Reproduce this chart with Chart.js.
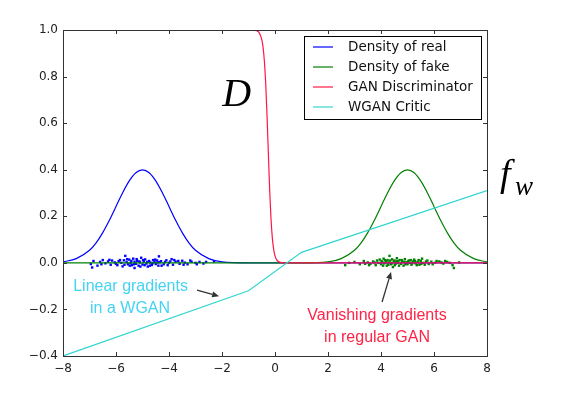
<!DOCTYPE html>
<html>
<head>
<meta charset="utf-8">
<script src="https://cdn.jsdelivr.net/npm/chart.js@4.4.1/dist/chart.umd.min.js"></script>
<style>
  html, body { margin: 0; padding: 0; background: #fff; }
  canvas { display: block; }
</style>
</head>
<body>
<canvas id="wganChart" width="564" height="398"></canvas>
<script>
// data
const realX = [-8, -7.5, -7, -6.75, -6.5, -6.25, -6, -5.75, -5.5, -5.25, -5, -4.75, -4.5, -4.25, -4, -3.75, -3.5, -3.25, -3, -2.5, -2, -1, 8];
const realY = [0.004, 0.018, 0.054, 0.086, 0.130, 0.183, 0.242, 0.301, 0.352, 0.387, 0.399, 0.387, 0.352, 0.301, 0.242, 0.183, 0.130, 0.086, 0.054, 0.018, 0.004, 0, 0];

const fakeX = [-8, 1, 2, 2.5, 3, 3.25, 3.5, 3.75, 4, 4.25, 4.5, 4.75, 5, 5.25, 5.5, 5.75, 6, 6.25, 6.5, 6.75, 7, 7.5, 8];
const fakeY = [0, 0, 0.004, 0.018, 0.054, 0.086, 0.130, 0.183, 0.242, 0.301, 0.352, 0.387, 0.399, 0.387, 0.352, 0.301, 0.242, 0.183, 0.130, 0.086, 0.054, 0.018, 0.004];

const discX = [-8, -0.8, -0.7, -0.6, -0.5, -0.45, -0.4, -0.35, -0.3, -0.25, -0.2, -0.15, -0.1, -0.05, 0, 0.05, 0.1, 0.2, 0.3, 8];
const discY = [1, 0.999, 0.997, 0.989, 0.96, 0.926, 0.865, 0.769, 0.63, 0.467, 0.31, 0.188, 0.106, 0.058, 0.03, 0.016, 0.008, 0.002, 0, 0];

const criticX = [-8, -1, 1, 8];
const criticY = [-0.4, -0.12, 0.045, 0.31];

const realSamples = [
  [-6.95, -0.005], [-6.9, -0.02], [-6.85, 0.008], [-6.7, -0.012], [-6.6, 0.004], [-6.5, 0.012],
  [-6.4, -0.002], [-6.3, 0.006], [-6.2, -0.008], [-6.15, 0.01], [-6.05, 0.002], [-5.95, -0.01],
  [-5.9, 0.007], [-5.8, 0.0], [-5.75, -0.015], [-5.7, 0.011], [-5.65, 0.03], [-5.6, 0.004],
  [-5.55, -0.006], [-5.5, 0.014], [-5.45, 0.0], [-5.4, -0.01], [-5.35, 0.018], [-5.3, 0.005],
  [-5.3, -0.022], [-5.25, -0.004], [-5.2, 0.009], [-5.15, -0.012], [-5.1, 0.002], [-5.05, 0.022],
  [-5.0, -0.007], [-4.95, 0.006], [-4.9, 0.015], [-4.85, -0.003], [-4.8, -0.016], [-4.75, 0.008],
  [-4.7, 0.001], [-4.65, -0.009], [-4.6, 0.012], [-4.55, 0.004], [-4.5, -0.005], [-4.45, 0.01],
  [-4.4, -0.012], [-4.38, 0.028], [-4.35, 0.003], [-4.3, 0.007], [-4.2, -0.006], [-4.1, 0.011],
  [-4.0, 0.0], [-3.9, 0.016], [-3.85, -0.008], [-3.75, 0.005], [-3.6, -0.004], [-3.5, 0.009],
  [-3.4, 0.001], [-3.3, -0.006], [-3.15, 0.005], [-3.0, 0.0], [-2.85, 0.004], [-2.7, -0.003],
  [-2.3, 0.006], [-6.55, -0.006], [-6.25, 0.013], [-6.0, -0.004], [-5.85, 0.012], [-5.68, -0.008],
  [-5.58, 0.016], [-5.48, -0.012], [-5.42, 0.008], [-5.33, -0.006], [-5.22, 0.016], [-5.12, 0.006],
  [-5.08, -0.016], [-4.98, 0.012], [-4.92, -0.01], [-4.82, 0.004], [-4.72, -0.012], [-4.62, -0.002],
  [-4.52, 0.014], [-4.42, 0.002], [-4.28, -0.012], [-4.15, 0.004], [-4.05, -0.01], [-3.95, 0.006],
  [-3.8, 0.012], [-3.65, 0.008], [-3.45, -0.008], [-3.2, 0.01], [-2.95, -0.006], [-2.6, 0.004]
];

const fakeSamples = [
  [2.65, -0.01], [2.8, 0.0], [3.0, 0.004], [3.2, -0.006], [3.35, 0.008], [3.5, 0.002],
  [3.55, -0.01], [3.6, -0.004], [3.7, 0.006], [3.8, -0.01], [3.85, 0.01], [3.9, 0.0],
  [3.95, 0.014], [4.0, -0.006], [4.05, 0.004], [4.1, 0.018], [4.12, -0.002], [4.18, 0.008],
  [4.22, -0.012], [4.25, 0.012], [4.3, 0.002], [4.32, 0.03], [4.38, -0.006], [4.42, 0.015],
  [4.45, -0.018], [4.48, 0.004], [4.52, -0.01], [4.58, 0.008], [4.6, 0.02], [4.62, 0.0],
  [4.7, 0.012], [4.75, -0.004], [4.8, 0.006], [4.85, -0.012], [4.9, 0.016], [4.95, 0.002],
  [5.0, -0.006], [5.05, 0.01], [5.1, 0.0], [5.15, -0.008], [5.2, 0.006], [5.25, 0.014],
  [5.3, -0.002], [5.38, 0.004], [5.45, -0.008], [5.5, 0.009], [5.55, 0.018], [5.6, 0.0],
  [5.7, 0.006], [5.8, -0.005], [5.9, 0.005], [6.05, 0.001], [6.2, 0.006], [6.35, -0.003],
  [6.5, 0.004], [6.7, -0.01], [6.75, -0.022], [6.95, 0.002], [3.4, -0.004], [3.75, 0.002],
  [4.02, 0.008], [4.08, -0.012], [4.15, 0.012], [4.2, 0.002], [4.28, -0.008], [4.35, 0.01],
  [4.4, -0.002], [4.5, 0.01], [4.55, -0.004], [4.65, 0.006], [4.68, -0.012], [4.78, 0.012],
  [4.88, 0.004], [4.92, -0.006], [5.02, 0.006], [5.12, 0.012], [5.18, -0.002], [5.28, 0.008],
  [5.35, -0.01], [5.42, 0.012], [5.52, -0.004], [5.65, -0.008], [5.75, 0.01], [5.95, -0.006],
  [6.1, 0.008], [6.28, 0.002], [6.42, 0.008], [6.6, 0.0]
];

const xTicks = [-8, -6, -4, -2, 0, 2, 4, 6, 8];
const yTicks = [-0.4, -0.2, 0.0, 0.2, 0.4, 0.6, 0.8, 1.0];

const COLORS = {
  real: '#0000ff',
  fake: '#008000',
  disc: '#ff1744',
  critic: '#33d6cf',
  linearText: '#45d3f2',
  vanishText: '#ff2346',
  arrow: '#333333'
};

const pairs = (xs, ys) => xs.map((x, i) => ({ x: x, y: ys[i] }));
const points = list => list.map(p => ({ x: p[0], y: p[1] }));

// legend, frame, inward ticks and the annotations
const decorPlugin = {
  id: 'decor',
  afterDatasetsDraw(chart) {
    const ctx = chart.ctx;
    const area = chart.chartArea;
    const xs = chart.scales.x;
    const ys = chart.scales.y;
    const px = v => xs.getPixelForValue(v);
    const py = v => ys.getPixelForValue(v);

    ctx.save();
    // frame
    ctx.strokeStyle = '#333';
    ctx.lineWidth = 1;
    ctx.strokeRect(Math.round(area.left) + 0.5, Math.round(area.top) + 0.5,
      Math.round(area.right - area.left), Math.round(area.bottom - area.top));

    // inward ticks on all four sides
    ctx.beginPath();
    xTicks.forEach(t => {
      const x = Math.round(px(t)) + 0.5;
      ctx.moveTo(x, area.bottom); ctx.lineTo(x, area.bottom - 4);
      ctx.moveTo(x, area.top); ctx.lineTo(x, area.top + 4);
    });
    yTicks.forEach(t => {
      const y = Math.round(py(t)) + 0.5;
      ctx.moveTo(area.left, y); ctx.lineTo(area.left + 4, y);
      ctx.moveTo(area.right, y); ctx.lineTo(area.right - 4, y);
    });
    ctx.stroke();

    // legend box
    const items = [
      ['Density of real', COLORS.real],
      ['Density of fake', COLORS.fake],
      ['GAN Discriminator', COLORS.disc],
      ['WGAN Critic', COLORS.critic]
    ];
    const bw = 177, bh = 83;
    const bx = area.right - 6 - bw, by = area.top + 6;
    ctx.fillStyle = '#fff';
    ctx.fillRect(bx, by, bw, bh);
    ctx.strokeStyle = '#000';
    ctx.strokeRect(Math.round(bx) + 0.5, Math.round(by) + 0.5, bw, bh);
    ctx.font = '13.5px "DejaVu Sans"';
    ctx.textBaseline = 'middle';
    ctx.textAlign = 'left';
    items.forEach((it, i) => {
      const y = by + 11 + i * 20;
      ctx.strokeStyle = it[1];
      ctx.lineWidth = 1.2;
      ctx.beginPath();
      ctx.moveTo(bx + 9, y); ctx.lineTo(bx + 29, y);
      ctx.stroke();
      ctx.fillStyle = '#111';
      ctx.fillText(it[0], bx + 44, y);
    });

    // big symbols
    ctx.fillStyle = '#000';
    ctx.textBaseline = 'alphabetic';
    ctx.textAlign = 'center';
    ctx.font = 'italic 40px "Liberation Serif"';
    ctx.fillText('D', px(-1.45), py(0.674));
    ctx.textAlign = 'left';
    ctx.font = 'italic 38px "Liberation Serif"';
    ctx.fillText('f', area.right + 13, py(0.33));
    ctx.font = 'italic 27px "Liberation Serif"';
    ctx.fillText('w', area.right + 28, py(0.29));

    // annotation texts
    ctx.textAlign = 'center';
    ctx.textBaseline = 'middle';
    ctx.font = '16px "Liberation Sans"';
    ctx.fillStyle = COLORS.linearText;
    ctx.fillText('Linear gradients', px(-5.45), py(-0.104));
    ctx.fillText('in a WGAN', px(-5.47), py(-0.198));
    ctx.fillStyle = COLORS.vanishText;
    ctx.fillText('Vanishing gradients', px(3.85), py(-0.228));
    ctx.fillText('in regular GAN', px(3.85), py(-0.323));

    // arrows
    const arrow = (x0, y0, x1, y1) => {
      const ax = px(x0), ay = py(y0), bx2 = px(x1), by2 = py(y1);
      const ang = Math.atan2(by2 - ay, bx2 - ax);
      const hl = 7, hw = 3;
      ctx.strokeStyle = COLORS.arrow;
      ctx.fillStyle = COLORS.arrow;
      ctx.lineWidth = 1.3;
      ctx.beginPath();
      ctx.moveTo(ax, ay);
      ctx.lineTo(bx2 - hl * Math.cos(ang), by2 - hl * Math.sin(ang));
      ctx.stroke();
      ctx.beginPath();
      ctx.moveTo(bx2, by2);
      ctx.lineTo(bx2 - hl * Math.cos(ang) + hw * Math.sin(ang), by2 - hl * Math.sin(ang) - hw * Math.cos(ang));
      ctx.lineTo(bx2 - hl * Math.cos(ang) - hw * Math.sin(ang), by2 - hl * Math.sin(ang) + hw * Math.cos(ang));
      ctx.closePath();
      ctx.fill();
    };
    arrow(-2.94, -0.117, -2.11, -0.143);
    arrow(4.04, -0.168, 4.38, -0.039);
    ctx.restore();
  }
};

const lineSet = (label, xs, ys, color, order) => ({
  label: label,
  data: pairs(xs, ys),
  showLine: true,
  borderColor: color,
  backgroundColor: color,
  borderWidth: 1.2,
  pointRadius: 0,
  cubicInterpolationMode: 'monotone',
  order: order
});

const ctx = document.getElementById('wganChart');
new Chart(ctx, {
  type: 'scatter',
  data: {
    datasets: [
      lineSet('Density of real', realX, realY, COLORS.real, 4),
      lineSet('Density of fake', fakeX, fakeY, COLORS.fake, 3),
      lineSet('GAN Discriminator', discX, discY, COLORS.disc, 2),
      Object.assign(lineSet('WGAN Critic', criticX, criticY, COLORS.critic, 1), { cubicInterpolationMode: 'default', tension: 0 }),
      {
        label: 'real samples',
        data: points(realSamples),
        pointStyle: 'rect',
        pointRadius: 1.7,
        borderWidth: 0,
        backgroundColor: COLORS.real,
        order: 6
      },
      {
        label: 'fake samples',
        data: points(fakeSamples),
        pointStyle: 'rect',
        pointRadius: 1.7,
        borderWidth: 0,
        backgroundColor: COLORS.fake,
        order: 5
      }
    ]
  },
  options: {
    responsive: false,
    animation: false,
    devicePixelRatio: 1,
    layout: { padding: { top: 30, right: 77, left: 0, bottom: 0 } },
    plugins: {
      legend: { display: false },
      tooltip: { enabled: false }
    },
    scales: {
      x: {
        type: 'linear',
        min: -8,
        max: 8,
        afterFit: s => { s.height = 42; },
        afterBuildTicks: s => { s.ticks = xTicks.map(v => ({ value: v })); },
        grid: { display: false, drawTicks: false },
        border: { display: false },
        ticks: {
          padding: 6,
          color: '#222',
          font: { family: '"DejaVu Sans"', size: 12 },
          callback: v => String(v).replace('-', '\u2212')
        }
      },
      y: {
        type: 'linear',
        min: -0.4,
        max: 1.0,
        afterFit: s => { s.width = 63; },
        afterBuildTicks: s => { s.ticks = yTicks.map(v => ({ value: v })); },
        grid: { display: false, drawTicks: false },
        border: { display: false },
        ticks: {
          padding: 5,
          color: '#222',
          font: { family: '"DejaVu Sans"', size: 12 },
          callback: v => (Math.abs(v) < 1e-9 ? 0 : v).toFixed(1).replace('-', '\u2212')
        }
      }
    }
  },
  plugins: [decorPlugin]
});
</script>
</body>
</html>
